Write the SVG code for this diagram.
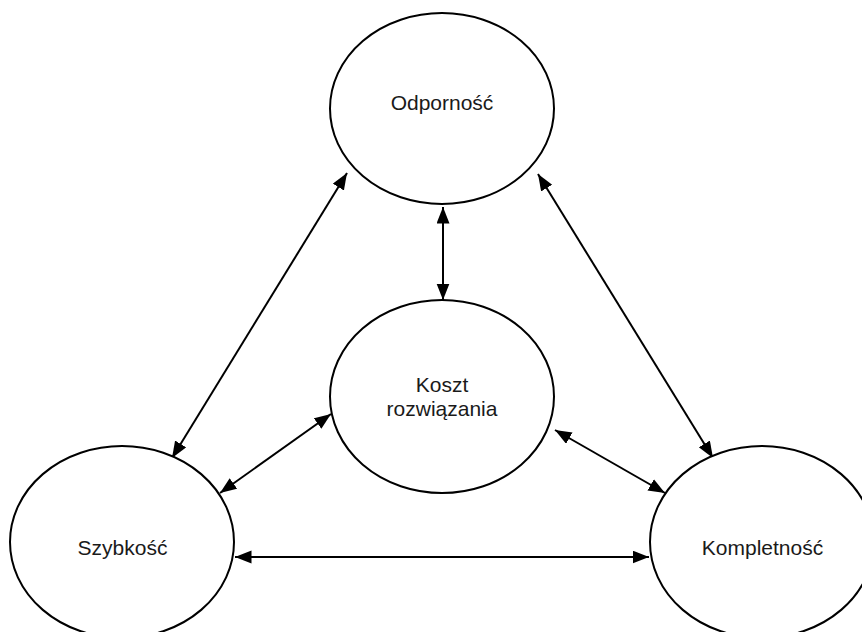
<svg xmlns="http://www.w3.org/2000/svg" width="862" height="632" viewBox="0 0 862 632">
<style>
.node ellipse{fill:#fff;stroke:#000;stroke-width:2}
.node text{font-family:"Liberation Sans",Arial,sans-serif;font-size:21px;fill:#1a1a1a;text-anchor:middle}
.edges line{stroke:#000;stroke-width:2;fill:none;marker-start:url(#ah);marker-end:url(#ah)}
</style>
<defs>
<marker id="ah" markerUnits="userSpaceOnUse" markerWidth="17" markerHeight="14" refX="16.5" refY="6.5" orient="auto-start-reverse">
<path d="M0,0 L16.5,6.5 L0,13 z" fill="#000"/>
</marker>
</defs>
<rect width="862" height="632" fill="#fff"/>
<g class="edges">
<line x1="172" y1="458" x2="347" y2="173"/>
<line x1="713" y1="458" x2="538" y2="174"/>
<line x1="443" y1="300" x2="443" y2="207"/>
<line x1="220" y1="493" x2="331" y2="414"/>
<line x1="665" y1="493" x2="555" y2="430"/>
<line x1="235" y1="557" x2="649" y2="557"/>
</g>
<g id="odpornosc" class="node">
<ellipse cx="442" cy="108.5" rx="112" ry="95.5"/>
<text x="442" y="110">Odporność</text>
</g>
<g id="koszt" class="node">
<ellipse cx="442" cy="396.5" rx="112" ry="96.5"/>
<text x="442" y="392">Koszt</text>
<text x="442" y="416">rozwiązania</text>
</g>
<g id="szybkosc" class="node">
<ellipse cx="122" cy="542" rx="112" ry="96"/>
<text x="122.5" y="555">Szybkość</text>
</g>
<g id="kompletnosc" class="node">
<ellipse cx="762" cy="542" rx="112" ry="96"/>
<text x="762.5" y="555">Kompletność</text>
</g>
</svg>
